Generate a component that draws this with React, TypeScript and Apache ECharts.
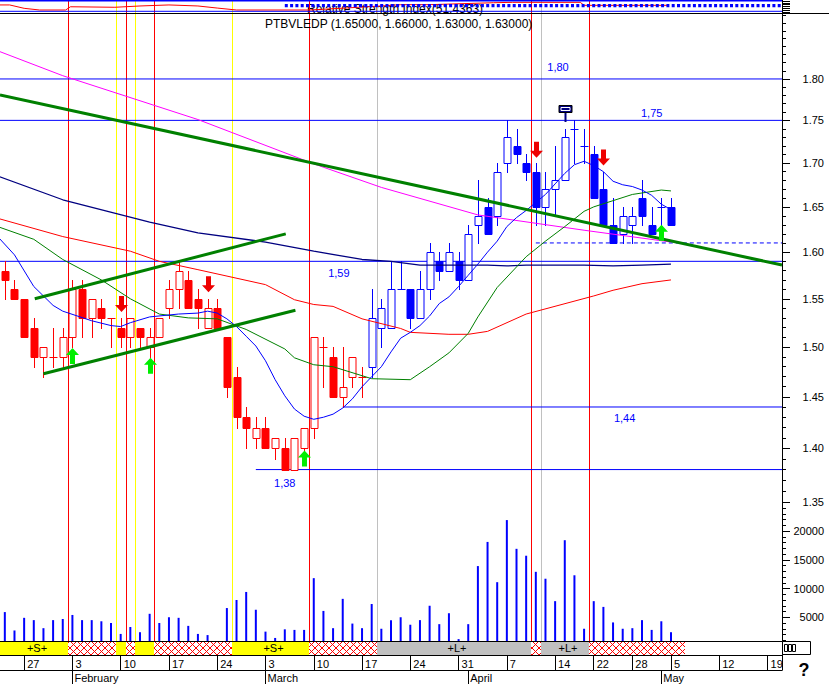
import React, { useEffect, useRef } from "react";
import * as echarts from "echarts";

const FONT = "Liberation Sans, Arial, sans-serif";
const BLUE = "#0000ff";
const RED = "#ff0000";
const NAVY = "#000080";
const DKGREEN = "#008000";
const MAGENTA = "#ff00ff";

// ---------- data ----------
const dates = [
  "2014-01-23", "2014-01-24", "2014-01-27", "2014-01-28", "2014-01-29", "2014-01-30", "2014-01-31",
  "2014-02-03", "2014-02-04", "2014-02-05", "2014-02-06", "2014-02-07",
  "2014-02-10", "2014-02-11", "2014-02-12", "2014-02-13", "2014-02-14",
  "2014-02-17", "2014-02-18", "2014-02-19", "2014-02-20", "2014-02-21",
  "2014-02-24", "2014-02-25", "2014-02-26", "2014-02-27", "2014-02-28",
  "2014-03-03", "2014-03-04", "2014-03-05", "2014-03-06", "2014-03-07",
  "2014-03-10", "2014-03-11", "2014-03-12", "2014-03-13", "2014-03-14",
  "2014-03-17", "2014-03-18", "2014-03-19", "2014-03-20", "2014-03-21",
  "2014-03-24", "2014-03-25", "2014-03-26", "2014-03-27", "2014-03-28",
  "2014-03-31", "2014-04-01", "2014-04-02", "2014-04-03", "2014-04-04",
  "2014-04-07", "2014-04-08", "2014-04-09", "2014-04-10", "2014-04-11",
  "2014-04-14", "2014-04-15", "2014-04-16", "2014-04-17",
  "2014-04-22", "2014-04-23", "2014-04-24", "2014-04-25",
  "2014-04-28", "2014-04-29", "2014-04-30", "2014-05-02",
  "2014-05-05", "2014-05-06", "2014-05-07", "2014-05-08", "2014-05-09",
  "2014-05-12", "2014-05-13", "2014-05-14", "2014-05-15", "2014-05-16",
  "2014-05-19", "2014-05-20",
];
const monthNames = ["January", "February", "March", "April", "May", "June"];

const opens = [
  1.58, 1.56, 1.55, 1.52, 1.49, 1.49, 1.49, 1.51, 1.56, 1.53,
  1.54, 1.53, 1.52, 1.51, 1.52, 1.50, 1.51, 1.54, 1.56, 1.57,
  1.55, 1.52, 1.54, 1.51, 1.47, 1.43, 1.41, 1.42, 1.40, 1.40,
  1.38, 1.40, 1.42, 1.50, 1.49, 1.45, 1.47, 1.47, 1.48, 1.52,
  1.52, 1.56, 1.56, 1.53, 1.56, 1.59, 1.58, 1.59, 1.57, 1.63,
  1.65, 1.64, 1.70, 1.72, 1.70, 1.69, 1.65, 1.67, 1.68, 1.74,
  1.72, 1.71, 1.67, 1.63, 1.62, 1.63, 1.66, 1.63, 1.65, 1.65,
];
const closes = [
  1.57, 1.55, 1.51, 1.49, 1.50, 1.49, 1.51, 1.56, 1.53, 1.55,
  1.53, 1.53, 1.51, 1.53, 1.51, 1.51, 1.53, 1.56, 1.58, 1.54,
  1.54, 1.54, 1.52, 1.46, 1.43, 1.42, 1.42, 1.40, 1.41, 1.38,
  1.41, 1.42, 1.51, 1.50, 1.45, 1.46, 1.49, 1.47, 1.53, 1.54,
  1.56, 1.56, 1.53, 1.56, 1.60, 1.58, 1.60, 1.57, 1.62, 1.64,
  1.62, 1.69, 1.73, 1.71, 1.69, 1.65, 1.67, 1.68, 1.73, 1.74,
  1.72, 1.66, 1.63, 1.61, 1.64, 1.64, 1.64, 1.62, 1.65, 1.63,
];
const highs = [
  1.59, 1.57, 1.55, 1.53, 1.50, 1.52, 1.52, 1.57, 1.57, 1.55,
  1.55, 1.53, 1.53, 1.53, 1.52, 1.52, 1.53, 1.57, 1.59, 1.58,
  1.56, 1.55, 1.55, 1.51, 1.48, 1.44, 1.43, 1.43, 1.41, 1.41,
  1.41, 1.42, 1.51, 1.51, 1.50, 1.50, 1.49, 1.48, 1.56, 1.55,
  1.59, 1.59, 1.56, 1.58, 1.61, 1.60, 1.61, 1.60, 1.63, 1.68,
  1.66, 1.70, 1.75, 1.74, 1.71, 1.70, 1.69, 1.72, 1.74, 1.75,
  1.74, 1.72, 1.69, 1.66, 1.65, 1.65, 1.68, 1.65, 1.66, 1.66,
];
const lows = [
  1.55, 1.55, 1.51, 1.48, 1.47, 1.48, 1.48, 1.50, 1.51, 1.51,
  1.52, 1.50, 1.50, 1.50, 1.50, 1.49, 1.51, 1.53, 1.54, 1.54,
  1.52, 1.52, 1.52, 1.45, 1.42, 1.40, 1.40, 1.40, 1.39, 1.38,
  1.38, 1.39, 1.41, 1.46, 1.45, 1.44, 1.46, 1.45, 1.47, 1.50,
  1.52, 1.56, 1.52, 1.53, 1.55, 1.57, 1.58, 1.56, 1.57, 1.61,
  1.62, 1.63, 1.69, 1.70, 1.68, 1.63, 1.63, 1.64, 1.68, 1.70,
  1.70, 1.66, 1.63, 1.61, 1.61, 1.61, 1.63, 1.62, 1.63, 1.63,
];
const blueCandlesFrom = 38;

const volumes = [
  5900, 2700, 4900, 4500, 3100, 4500, 4700, 5400, 4500, 4500,
  4300, 4000, 2100, 3300, 2400, 5600, 4000, 5000, 4900, 3500,
  2100, 1900, 500, 6600, 8000, 9400, 6300, 2500, 1400, 2900,
  2800, 2800, 11800, 6100, 3100, 8200, 3900, 3100, 7300, 3000,
  4500, 5000, 3700, 4500, 7000, 3800, 5700, 1200, 3800, 13900,
  18100, 11100, 21900, 16900, 15700, 12900, 11700, 7800, 18400, 12300,
  3000, 7800, 6800, 4100, 3000, 3100, 4500, 2800, 4300, 2400,
];

// moving averages: [day index, price]
const maShortBlue = [
  [-1, 1.620], [1, 1.597], [3, 1.563], [5, 1.543], [6, 1.537], [9, 1.527], [11, 1.522], [12, 1.521],
  [13, 1.525], [15, 1.531], [18, 1.534], [20, 1.535], [21, 1.537], [22, 1.535], [23, 1.529], [24, 1.521],
  [25, 1.511], [26, 1.501], [27, 1.486], [28, 1.467], [29, 1.451], [30, 1.438], [31, 1.431], [32, 1.428],
  [33, 1.430], [34, 1.433], [35, 1.439], [36, 1.448], [37, 1.460], [38, 1.470], [39, 1.480], [40, 1.495],
  [41, 1.509], [42, 1.515], [43, 1.522], [44, 1.532], [45, 1.545], [46, 1.552], [47, 1.563], [48, 1.575],
  [49, 1.587], [50, 1.600], [51, 1.612], [52, 1.628], [53, 1.638], [54, 1.646], [55, 1.655], [56, 1.664],
  [57, 1.676], [58, 1.688], [59, 1.698], [60, 1.702], [61, 1.697], [62, 1.690], [63, 1.679], [64, 1.675],
  [65, 1.673], [66, 1.669], [67, 1.663], [68, 1.653], [69, 1.647],
];
const maGreen = [
  [-1, 1.629], [3, 1.614], [6, 1.592], [10, 1.570], [13, 1.550], [16, 1.534], [19, 1.530], [22, 1.529],
  [25, 1.518], [29, 1.498], [30, 1.489], [32, 1.482], [34, 1.480], [38, 1.468], [42, 1.467], [44, 1.480],
  [46, 1.494], [48, 1.514], [49, 1.531], [51, 1.562], [54, 1.595], [56, 1.612], [58, 1.628], [60, 1.645],
  [61, 1.650], [65, 1.664], [68, 1.669], [69, 1.668],
];
const maRed = [
  [-1, 1.638], [6, 1.617], [13, 1.601], [16, 1.590], [20, 1.581], [27, 1.565], [30, 1.549], [32, 1.544],
  [34, 1.542], [37, 1.529], [41, 1.519], [42, 1.515], [46, 1.513], [48, 1.513], [50, 1.516], [54, 1.534],
  [61, 1.553], [63, 1.559], [66, 1.566], [69, 1.570],
];
const maNavy = [
  [-1, 1.686], [6, 1.658], [15, 1.633], [20, 1.621], [27, 1.611], [32, 1.601], [37, 1.592], [40, 1.590],
  [43, 1.586], [50, 1.586], [52, 1.585], [54, 1.586], [60, 1.586], [63, 1.585], [66, 1.586], [69, 1.587],
];
const maMagenta = [
  [-1, 1.836], [6, 1.804], [20, 1.751], [32, 1.699], [39, 1.672], [49, 1.641], [60, 1.624], [69, 1.611],
];

// trend lines: [day index, price]
const trendDown = [[-0.5, 1.7805], [80.5, 1.586]];
const channelUpper = [[3.1, 1.550], [29.1, 1.620]];
const channelLower = [[4.0, 1.473], [30.1, 1.538]];

// horizontal levels
const levelPrices = [1.80, 1.75, 1.59, 1.44, 1.38];
const levelStarts = [-0.5, -0.5, -0.5, 35, 26];
const levelLabelAt = [57.3, 67, 34.6, 64.2, 29.0];
const dashedLevelPrice = 1.61;
const dashedLevelStart = 55;

// signal arrows
const arrowDays = [12, 21, 55, 62, 7, 15, 31, 68];
const arrowTips = [1.536, 1.557, 1.706, 1.697, 1.499, 1.489, 1.398, 1.630];
const arrowDirs = [-1, -1, -1, -1, 1, 1, 1, 1];
const exitDay = 58;
const exitPrice = 1.748;

// vertical signal lines (between days)
const vlinePos = [6.5, 11.5, 12.5, 13.5, 15.5, 23.5, 31.5, 38.5, 54.5, 55.5, 60.5];
const vlineKind = ["r", "y", "r", "y", "r", "y", "r", "g", "r", "g", "r"];

// signal band
const bandEdges = [-0.5, 6.5, 11.5, 12.5, 13.5, 15.5, 23.5, 31.5, 38.5, 54.5, 55.5, 60.5, 70.5];
const bandKind = ["S", "x", "S", "x", "S", "x", "S", "x", "L", "x", "L", "x"];

// relative strength strip
const rsi = [
  [-1, 62], [0.5, 62], [2, 36], [3.6, 23], [6.3, 23], [6.8, 48], [11.4, 44], [14, 54], [17, 62],
  [20, 54], [22, 38], [24, 23], [31.6, 23], [39, 54], [41, 64], [44, 64], [50.6, 79], [52.6, 82],
  [59.6, 82], [60, 59], [68.7, 59],
];
const rsDottedStart = 29;
const rsDottedLevel = 56;
const rsLevels = [96, 13];

const titleText = "PTBVLEDP (1.65000, 1.66000, 1.63000, 1.63000)";
const rsTitleText = "Relative Strength Index(51.4363)";

// axis settings
const PRICE_AXIS_MIN = 1.2281;
const PRICE_AXIS_MAX = 1.8826;
const VOL_AXIS_MAX = 25000;
const X_MIN = -0.5;
const X_MAX = 80.5;

const majorPriceTicks = [1.35, 1.4, 1.45, 1.5, 1.55, 1.6, 1.65, 1.7, 1.75, 1.8];
const minorPriceTicks = Array.from({ length: 54 }, (_, k) => Math.round((1.35 + k * 0.01) * 100) / 100);
const majorVolTicks = [5000, 10000, 15000, 20000];
const minorVolTicks = Array.from({ length: 24 }, (_, k) => (k + 1) * 1000);

function buildOption() {
  const LN = Math.log;
  const yMin = LN(PRICE_AXIS_MIN);
  const yMax = LN(PRICE_AXIS_MAX);

  const weekDay = (s: string) => new Date(s + "T00:00:00Z").getUTCDay();
  const weekStarts: number[] = [];
  const monthStarts: number[] = [];
  dates.forEach((d, i) => {
    if (i === 0) return;
    if (weekDay(d) < weekDay(dates[i - 1])) weekStarts.push(i);
    if (d.slice(5, 7) !== dates[i - 1].slice(5, 7)) monthStarts.push(i);
  });

  const noSplit = { show: false };
  const hiddenX = (gridIndex: number) => ({
    gridIndex, type: "value", min: X_MIN, max: X_MAX, show: false, splitLine: noSplit,
  });

  const priceLine = (pts: number[][], color: string, width: number, z: number, type: any = "solid") => ({
    type: "line",
    xAxisIndex: 0,
    yAxisIndex: 0,
    data: pts.map(([i, p]) => [i, LN(p)]),
    showSymbol: false,
    symbol: "none",
    silent: true,
    clip: true,
    z,
    lineStyle: { color, width, type },
  });

  const vColor = (k: string) => (k === "r" ? RED : k === "y" ? "#ffff00" : "#c0c0c0");

  const vlineSeries = (xi: number, yi: number, lo: number, hi: number) => ({
    type: "custom",
    xAxisIndex: xi,
    yAxisIndex: yi,
    silent: true,
    z: 1,
    data: vlinePos.map((p) => [p, lo]),
    encode: { x: 0, y: 1 },
    renderItem: (params: any, api: any) => {
      const k = vlineKind[params.dataIndex];
      const t = api.coord([api.value(0), hi]);
      const b = api.coord([api.value(0), lo]);
      const x = Math.round(t[0]) + 0.5;
      return {
        type: "line",
        shape: { x1: x, y1: t[1], x2: x, y2: b[1] },
        style: { stroke: vColor(k), lineWidth: 1 },
      };
    },
  });

  const series: any[] = [];

  series.push(vlineSeries(0, 0, yMin, yMax));
  series.push(vlineSeries(2, 4, 0, 100));

  // levels
  levelPrices.forEach((p, k) => {
    series.push(priceLine([[levelStarts[k], p], [X_MAX, p]], BLUE, 1, 2));
  });
  series.push(priceLine([[dashedLevelStart, dashedLevelPrice], [X_MAX, dashedLevelPrice]], BLUE, 1, 2, [4, 3]));

  const levelLabelDy = [-12, -7, 12, 11, 13];
  series.push({
    type: "custom",
    xAxisIndex: 0,
    yAxisIndex: 0,
    silent: true,
    z: 3,
    data: levelPrices.map((p, k) => [levelLabelAt[k], LN(p)]),
    encode: { x: 0, y: 1 },
    renderItem: (params: any, api: any) => {
      const k = params.dataIndex;
      const pt = api.coord([api.value(0), api.value(1)]);
      return {
        type: "text",
        style: {
          text: levelPrices[k].toFixed(2).replace(".", ","),
          x: pt[0],
          y: pt[1] + levelLabelDy[k],
          align: "center",
          verticalAlign: "middle",
          fill: BLUE,
          fontSize: 11,
          fontFamily: FONT,
        },
      };
    },
  });

  // candles
  series.push({
    type: "custom",
    xAxisIndex: 0,
    yAxisIndex: 0,
    silent: true,
    z: 3,
    data: opens.map((o, i) => [i, LN(o), LN(closes[i]), LN(lows[i]), LN(highs[i])]),
    encode: { x: 0, y: [1, 2, 3, 4] },
    renderItem: (params: any, api: any) => {
      const i = api.value(0);
      const col = i >= blueCandlesFrom ? BLUE : RED;
      const pO = api.coord([i, api.value(1)]);
      const pC = api.coord([i, api.value(2)]);
      const pL = api.coord([i, api.value(3)]);
      const pH = api.coord([i, api.value(4)]);
      const cx = Math.round(pO[0]) + 0.5;
      const yO = Math.round(pO[1]) + 0.5;
      const yC = Math.round(pC[1]) + 0.5;
      const children: any[] = [
        {
          type: "line",
          shape: { x1: cx, y1: Math.round(pH[1]), x2: cx, y2: Math.round(pL[1]) + 1 },
          style: { stroke: col, lineWidth: 1 },
        },
      ];
      if (Math.abs(yO - yC) < 1) {
        children.push({
          type: "line",
          shape: { x1: cx - 4, y1: yO, x2: cx + 4, y2: yO },
          style: { stroke: col, lineWidth: 1 },
        });
      } else {
        const up = api.value(2) > api.value(1);
        children.push({
          type: "rect",
          shape: { x: cx - 3.5, y: Math.min(yO, yC), width: 7, height: Math.abs(yO - yC) },
          style: { fill: up ? "#ffffff" : col, stroke: col, lineWidth: 1 },
        });
      }
      return { type: "group", children };
    },
  });

  // moving averages
  series.push(priceLine(maMagenta, MAGENTA, 1, 4));
  series.push(priceLine(maNavy, NAVY, 1.3, 4));
  series.push(priceLine(maRed, RED, 1, 4));
  series.push(priceLine(maGreen, DKGREEN, 1, 4));
  series.push(priceLine(maShortBlue, BLUE, 1, 4));

  // trend lines
  series.push(priceLine(trendDown, DKGREEN, 3, 5));
  series.push(priceLine(channelUpper, DKGREEN, 3, 5));
  series.push(priceLine(channelLower, DKGREEN, 3, 5));

  // arrows
  series.push({
    type: "custom",
    xAxisIndex: 0,
    yAxisIndex: 0,
    silent: true,
    z: 6,
    data: arrowDays.map((d, k) => [d, LN(arrowTips[k])]),
    encode: { x: 0, y: 1 },
    renderItem: (params: any, api: any) => {
      const k = params.dataIndex;
      const pt = api.coord([api.value(0), api.value(1)]);
      const cx = Math.round(pt[0]) + 0.5;
      const ty = pt[1];
      const m = arrowDirs[k] === -1 ? -1 : 1;
      const pts = [
        [cx - 2.5, ty + 16 * m], [cx + 2.5, ty + 16 * m], [cx + 2.5, ty + 7 * m],
        [cx + 6.5, ty + 7 * m], [cx, ty], [cx - 6.5, ty + 7 * m], [cx - 2.5, ty + 7 * m],
      ];
      return {
        type: "polygon",
        shape: { points: pts },
        style: { fill: arrowDirs[k] === -1 ? "#ee0000" : "#00ee00" },
      };
    },
  });

  // exit marker
  series.push({
    type: "custom",
    xAxisIndex: 0,
    yAxisIndex: 0,
    silent: true,
    z: 6,
    data: [[exitDay, LN(exitPrice)]],
    encode: { x: 0, y: 1 },
    renderItem: (params: any, api: any) => {
      const pt = api.coord([api.value(0), api.value(1)]);
      const cx = Math.round(pt[0]) + 0.5;
      const by = Math.round(pt[1]);
      return {
        type: "group",
        children: [
          { type: "line", shape: { x1: cx, y1: by, x2: cx, y2: by - 10 }, style: { stroke: NAVY, lineWidth: 2 } },
          { type: "rect", shape: { x: cx - 6.5, y: by - 16.5, width: 13, height: 7 }, style: { fill: NAVY, stroke: "#000", lineWidth: 1 } },
          { type: "rect", shape: { x: cx - 4.5, y: by - 14.5, width: 9, height: 3 }, style: { fill: "none", stroke: "#ffffff", lineWidth: 1 } },
        ],
      };
    },
  });

  // volume
  series.push({
    type: "bar",
    xAxisIndex: 1,
    yAxisIndex: 2,
    silent: true,
    z: 2,
    barWidth: 2,
    data: volumes.map((v, i) => [i, v]),
    itemStyle: { color: BLUE },
  });

  // RS strip
  series.push({
    type: "line", xAxisIndex: 2, yAxisIndex: 4, silent: true, z: 3, showSymbol: false, symbol: "none",
    data: rsi, lineStyle: { color: RED, width: 1 },
  });
  series.push({
    type: "line", xAxisIndex: 2, yAxisIndex: 4, silent: true, z: 3, showSymbol: false, symbol: "none",
    data: [[rsDottedStart, rsDottedLevel], [X_MAX, rsDottedLevel]],
    lineStyle: { color: BLUE, width: 3.3, type: [3, 2.3] },
  });
  rsLevels.forEach((lv, k) => {
    series.push({
      type: "line", xAxisIndex: 2, yAxisIndex: 4, silent: true, z: 3, showSymbol: false, symbol: "none",
      data: [[X_MIN, lv], [X_MAX, lv]],
      lineStyle: { color: BLUE, width: k === 0 ? 2 : 1 },
    });
  });

  // signal band
  series.push({
    type: "custom",
    xAxisIndex: 5,
    yAxisIndex: 6,
    silent: true,
    z: 8,
    data: bandKind.map((_, k) => [bandEdges[k], 0.5, bandEdges[k + 1]]),
    encode: { x: [0, 2], y: 1 },
    renderItem: (params: any, api: any) => {
      const kind = bandKind[params.dataIndex];
      const a = api.coord([api.value(0), 1]);
      const b = api.coord([api.value(2), 0]);
      const x0 = Math.round(a[0]);
      const x1 = Math.round(b[0]);
      const yT = a[1];
      const yB = b[1];
      const h = yB - yT;
      const children: any[] = [];
      if (kind === "x") {
        children.push({ type: "rect", shape: { x: x0, y: yT, width: x1 - x0, height: h }, style: { fill: "#ffffff" } });
        const step = 7;
        const start = Math.floor((x0 - h) / step) * step;
        for (let s = start; s < x1; s += step) {
          for (const dir of [1, -1]) {
            const t0 = Math.max(0, (x0 - s) / h);
            const t1 = Math.min(1, (x1 - s) / h);
            if (t0 < t1) {
              const ya = dir === 1 ? yT : yB;
              const yb = dir === 1 ? yB : yT;
              children.push({
                type: "line",
                shape: { x1: s + t0 * h, y1: ya + t0 * (yb - ya), x2: s + t1 * h, y2: ya + t1 * (yb - ya) },
                style: { stroke: RED, lineWidth: 1 },
              });
            }
          }
        }
      } else {
        children.push({
          type: "rect",
          shape: { x: x0, y: yT, width: x1 - x0, height: h },
          style: { fill: kind === "S" ? "#ffff00" : "#c0c0c0" },
        });
        if (x1 - x0 > 30) {
          children.push({
            type: "text",
            style: {
              text: kind === "S" ? "+S+" : "+L+",
              x: (x0 + x1) / 2 + 3,
              y: (yT + yB) / 2,
              align: "center",
              verticalAlign: "middle",
              fill: "#000",
              fontSize: 11,
              fontFamily: FONT,
            },
          });
        }
      }
      return { type: "group", children };
    },
  });

  const axisLbl = { fontSize: 11, fontFamily: FONT, color: "#000" };
  const blackLine = { show: true, onZero: false, lineStyle: { color: "#000", width: 1 } };

  return {
    animation: false,
    backgroundColor: "#ffffff",
    textStyle: { fontFamily: FONT },
    grid: [
      { left: 0, top: 13, width: 782, height: 628 },
      { left: 0, top: 502.25, width: 782, height: 143.75 },
      { left: 0, top: 0, width: 782, height: 13 },
      { left: 0, top: 655, width: 782, height: 15 },
      { left: 0, top: 641, width: 782, height: 14 },
    ],
    xAxis: [
      hiddenX(0),
      hiddenX(1),
      hiddenX(2),
      {
        gridIndex: 3, type: "value", min: X_MIN, max: X_MAX, position: "bottom", z: 10,
        splitLine: noSplit,
        axisLine: blackLine,
        axisTick: { show: true, inside: true, length: 15, customValues: weekStarts, lineStyle: { color: "#000" } },
        axisLabel: {
          ...axisLbl, show: true, inside: true, margin: 1, align: "left", padding: [0, 0, 0, 3],
          customValues: weekStarts,
          formatter: (v: number) => String(Number(dates[Math.round(v)].slice(8, 10))),
        },
      },
      {
        gridIndex: 3, type: "value", min: X_MIN, max: X_MAX, position: "bottom", offset: 0, z: 10,
        splitLine: noSplit,
        axisLine: { show: false, onZero: false },
        axisTick: { show: true, inside: false, length: 14, customValues: monthStarts, lineStyle: { color: "#000" } },
        axisLabel: {
          ...axisLbl, show: true, margin: 2, align: "left", padding: [0, 0, 0, 2],
          customValues: monthStarts,
          formatter: (v: number) => monthNames[Number(dates[Math.round(v)].slice(5, 7)) - 1],
        },
      },
      {
        gridIndex: 4, type: "value", min: X_MIN, max: X_MAX, position: "top", z: 10,
        splitLine: noSplit, axisLine: blackLine, axisTick: { show: false }, axisLabel: { show: false },
      },
      {
        gridIndex: 4, type: "value", min: X_MIN, max: X_MAX, position: "bottom", z: 10,
        splitLine: noSplit, axisLine: blackLine, axisTick: { show: false }, axisLabel: { show: false },
      },
    ],
    yAxis: [
      {
        gridIndex: 0, type: "value", min: yMin, max: yMax, position: "right", z: 10,
        splitLine: noSplit, axisLine: blackLine,
        axisTick: { show: true, length: 8, customValues: majorPriceTicks.map(LN), lineStyle: { color: "#000" } },
        axisLabel: {
          ...axisLbl, show: true, align: "right", margin: 42,
          customValues: majorPriceTicks.map(LN),
          formatter: (v: number) => Math.exp(v).toFixed(2),
        },
      },
      {
        gridIndex: 0, type: "value", min: yMin, max: yMax, position: "right", offset: 0, z: 10,
        splitLine: noSplit, axisLine: { show: false, onZero: false },
        axisTick: { show: true, length: 4, customValues: minorPriceTicks.map(LN), lineStyle: { color: "#000" } },
        axisLabel: { show: false },
      },
      {
        gridIndex: 1, type: "value", min: 0, max: VOL_AXIS_MAX, position: "right", z: 10,
        splitLine: noSplit, axisLine: { show: false, onZero: false },
        axisTick: { show: true, length: 8, customValues: majorVolTicks, lineStyle: { color: "#000" } },
        axisLabel: {
          ...axisLbl, show: true, align: "right", margin: 42,
          customValues: majorVolTicks,
          formatter: (v: number) => String(v),
        },
      },
      {
        gridIndex: 1, type: "value", min: 0, max: VOL_AXIS_MAX, position: "right", offset: 0, z: 10,
        splitLine: noSplit, axisLine: { show: false, onZero: false },
        axisTick: { show: true, length: 4, customValues: minorVolTicks, lineStyle: { color: "#000" } },
        axisLabel: { show: false },
      },
      {
        gridIndex: 2, type: "value", min: 0, max: 100, position: "right", z: 10,
        splitLine: noSplit, axisLine: blackLine,
        axisTick: { show: true, length: 8, customValues: [8, 22, 36, 50, 64, 78, 92], lineStyle: { color: "#000" } },
        axisLabel: { show: false },
      },
      {
        gridIndex: 3, type: "value", min: 0, max: 1, position: "right", z: 10,
        splitLine: noSplit, axisLine: blackLine, axisTick: { show: false }, axisLabel: { show: false },
      },
      {
        gridIndex: 4, type: "value", min: 0, max: 1, position: "right", z: 10,
        splitLine: noSplit, axisLine: blackLine, axisTick: { show: false }, axisLabel: { show: false },
      },
    ],
    graphic: [
      { type: "line", z: 100, shape: { x1: 0, y1: 13.5, x2: 829, y2: 13.5 }, style: { stroke: "#000", lineWidth: 1 } },
      {
        type: "text", z: 100, x: 265, y: 23.5,
        style: { text: titleText, fontSize: 12, fontFamily: FONT, fill: "#000", verticalAlign: "middle" },
      },
      {
        type: "text", z: 0, x: 307, y: 8.5,
        style: { text: rsTitleText, fontSize: 12, fontFamily: FONT, fill: "#000", verticalAlign: "middle" },
      },
      {
        type: "text", z: 100, x: 804, y: 670,
        style: { text: "?", fontSize: 18, fontWeight: "bold", fontFamily: FONT, fill: "#000", align: "center", verticalAlign: "middle" },
      },
      { type: "rect", z: 100, shape: { x: 782.5, y: 641.5, width: 28, height: 13 }, style: { fill: "#ffffff", stroke: "#000", lineWidth: 1 } },
      { type: "rect", z: 100, shape: { x: 784.5, y: 644.5, width: 3, height: 7 }, style: { fill: "none", stroke: "#000", lineWidth: 1 } },
      { type: "rect", z: 100, shape: { x: 788.5, y: 644.5, width: 3, height: 7 }, style: { fill: "none", stroke: "#000", lineWidth: 1 } },
      { type: "rect", z: 100, shape: { x: 792.5, y: 644.5, width: 3, height: 7 }, style: { fill: "none", stroke: "#000", lineWidth: 1 } },
    ],
    series,
  };
}

export default function App() {
  const ref = useRef<HTMLDivElement>(null);
  useEffect(() => {
    if (!ref.current) return;
    const chart = echarts.init(ref.current, null, { renderer: "svg" });
    chart.setOption(buildOption() as any);
    return () => chart.dispose();
  }, []);
  return (
    <div
      ref={ref}
      style={{ position: "absolute", left: 0, top: 0, width: 829, height: 684, background: "#fff" }}
    />
  );
}
